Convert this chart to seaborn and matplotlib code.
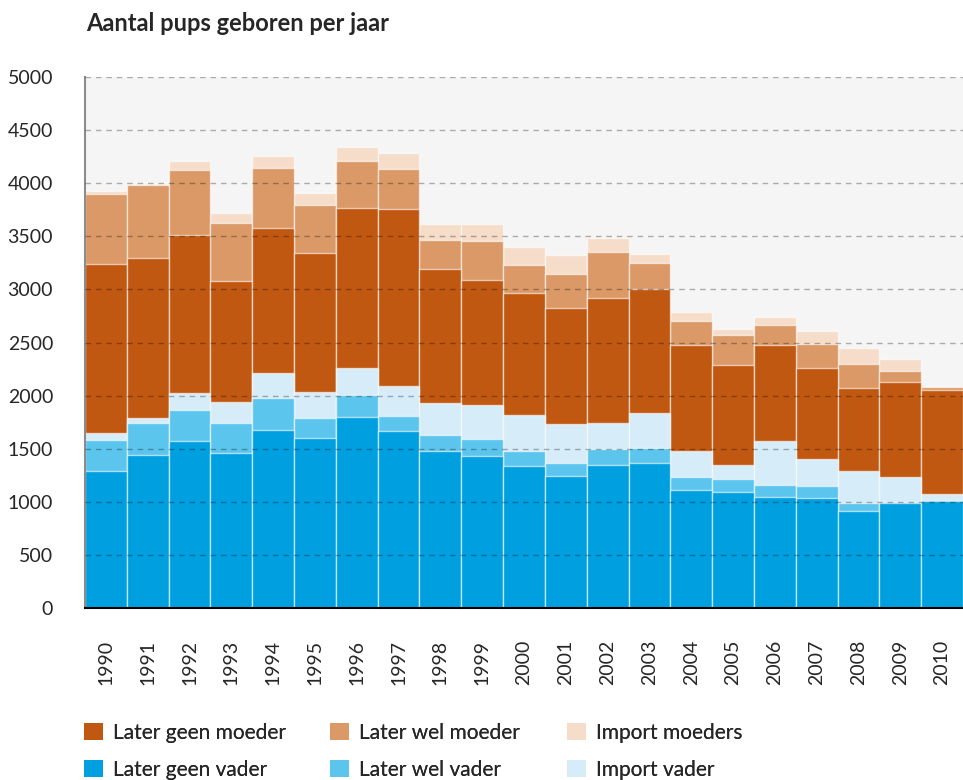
import matplotlib
matplotlib.use("Agg")
import matplotlib.pyplot as plt
import matplotlib.patches as mpatches
import seaborn as sns
import numpy as np
import pandas as pd

# Data (pups per year, per category)
years = [str(y) for y in range(1990, 2011)]
geen_vader = [1290, 1441, 1573, 1463, 1676, 1604, 1798, 1670, 1482, 1428, 1337,
              1243, 1350, 1368, 1114, 1095, 1048, 1039, 917, 986, 1008]
wel_vader = [292, 304, 288, 279, 298, 188, 205, 141, 143, 163, 144,
             122, 144, 135, 123, 117, 110, 107, 75, 15, 9]
import_vader = [63, 41, 163, 201, 236, 242, 260, 283, 302, 320, 339,
                364, 251, 336, 238, 138, 411, 254, 298, 229, 60]
geen_moeder = [1597, 1507, 1488, 1139, 1371, 1312, 1503, 1666, 1268, 1178, 1149,
               1093, 1177, 1168, 1001, 935, 904, 863, 785, 901, 973]
wel_moeder = [653, 687, 612, 540, 562, 446, 440, 377, 268, 367, 264,
              323, 430, 242, 226, 282, 195, 226, 226, 98, 31]
import_moeders = [32, 16, 85, 101, 116, 119, 135, 147, 152, 157, 166,
                  179, 129, 84, 85, 60, 69, 122, 150, 116, 4]

labels = ["Later geen vader", "Later wel vader", "Import vader",
          "Later geen moeder", "Later wel moeder", "Import moeders"]
colors = ["#009FE0", "#5CC5EE", "#D6ECF9", "#C15811", "#DA9966", "#F5DDC9"]

df = pd.DataFrame({"jaar": years, labels[0]: geen_vader, labels[1]: wel_vader,
                   labels[2]: import_vader, labels[3]: geen_moeder,
                   labels[4]: wel_moeder, labels[5]: import_moeders})
cum = df[labels].cumsum(axis=1)

sns.set_style("white")
plt.rcParams["font.family"] = ["Lato", "DejaVu Sans"]

fig = plt.figure(figsize=(9.63, 7.8), dpi=100)
ax = fig.add_axes([85 / 963, 1 - 608 / 780, 1 - 85 / 963, (608 - 77) / 780])
ax.set_facecolor("#F5F5F5")

# draw cumulative totals from top layer down so they stack visually
for lab, col in reversed(list(zip(labels, colors))):
    sns.barplot(x=df["jaar"], y=cum[lab], color=col, width=1.0, ax=ax,
                edgecolor=(1, 1, 1, 0.6), linewidth=1.0, saturation=1)

ax.set_xlim(-0.5, 20.5)
ax.set_ylim(0, 5000)
ax.set_yticks(np.arange(0, 5001, 500))
ax.set_xlabel("")
ax.set_ylabel("")

ax.set_axisbelow(False)
ax.yaxis.grid(True, color="black", alpha=0.3, linestyle=(0, (4, 3.5)), linewidth=1.0)
ax.xaxis.grid(False)

for s in ["top", "right"]:
    ax.spines[s].set_visible(False)
ax.spines["left"].set_color("#8C8C8C")
ax.spines["left"].set_linewidth(1.5)
ax.spines["bottom"].set_color("black")
ax.spines["bottom"].set_linewidth(1.5)
ax.spines["bottom"].set_zorder(5)

ax.tick_params(axis="y", length=0, pad=23, labelsize=14)
ax.tick_params(axis="x", length=0, pad=23, labelsize=14, rotation=90)

fig.text(86 / 963, 1 - 31 / 780, "Aantal pups geboren per jaar",
         fontsize=17, fontweight="bold", va="baseline", ha="left")

# legend: three separate columns at fixed positions
cols = [(84, [3, 0]), (330, [4, 1]), (567, [5, 2])]
for xpx, idx in cols:
    handles = [mpatches.Patch(facecolor=colors[i], edgecolor="none", label=labels[i]) for i in idx]
    leg = fig.legend(handles=handles, loc="upper left",
                     bbox_to_anchor=(xpx / 963, 1 - 723 / 780),
                     frameon=False, fontsize=15, handlelength=0.9, handleheight=0.9,
                     handletextpad=0.5, labelspacing=0.8, borderpad=0, borderaxespad=0)
    fig.add_artist(leg)

fig.savefig("out.png", dpi=100)
